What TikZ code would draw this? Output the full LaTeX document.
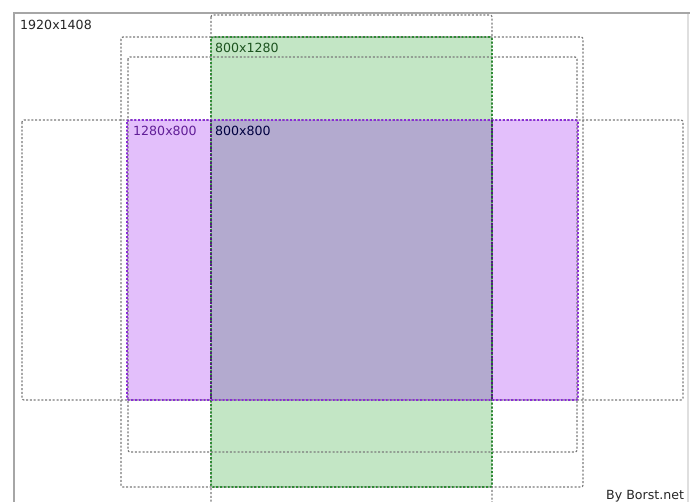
\documentclass[tikz,border=0pt]{standalone}
\usepackage{fontspec}
\setmainfont{DejaVu Sans}
\usetikzlibrary{positioning}

\definecolor{shotgreen}{HTML}{C3E6C5}
\definecolor{edgegreen}{HTML}{2E8B34}
\definecolor{shotpurple}{HTML}{E3BFFB}
\definecolor{edgepurple}{HTML}{8A2BD8}
\definecolor{shotmix}{HTML}{B3AACF}
\definecolor{guidegray}{HTML}{7A7A7A}

\tikzset{
  guide/.style={draw=guidegray, line width=1.2pt, dash pattern=on 2pt off 1.8pt, rounded corners=2pt},
  sizelabel/.style={anchor=base west, inner sep=0pt, font=\fontsize{12.6}{14}\selectfont},
}

\begin{document}
\begin{tikzpicture}[x=1pt, y=-1pt]
  \useasboundingbox (0,0) rectangle (695,501);
  \fill[white] (0,0) rectangle (695,501);

  % filled shots
  \fill[shotgreen] (211,37) rectangle (492,487);
  \fill[shotpurple] (127,120) rectangle (578,400);
  \fill[shotmix] (211,120) rectangle (492,400);

  % dashed guide frames
  \draw[guide] (211,15) rectangle (492,512);
  \draw[guide] (121,37) rectangle (583,487);
  \draw[guide] (128,57) rectangle (577,452);
  \draw[guide] (22,120) rectangle (683,400);

  % shot outlines
  \draw[guide, draw=edgegreen, line width=1.7pt] (211,37) rectangle (492,487);
  \draw[guide, draw=edgepurple, line width=1.7pt] (127,120) rectangle (578,400);
  \draw[guide, draw=edgepurple!60!black] (211,120) -- (211,400) (492,120) -- (492,400);

  % outer screen
  \draw[gray!70, line width=1.4pt] (14,520) -- (14,13) -- (690,13);
  \draw[gray!25, line width=1.4pt] (688,14) -- (688,520);

  % labels
  \node[sizelabel, text=black!85] (full) at (20,29) {1920x1408};
  \node[sizelabel, text=edgegreen!60!black] (tall) at (215,52) {800x1280};
  \node[sizelabel, text=edgepurple!70!black] (wide) at (133,135) {1280x800};
  \node[sizelabel, text=black!75!blue] (square) at (215,135) {800x800};
  \node[sizelabel, text=black!85] (credit) at (606,499) {By Borst.net};
\end{tikzpicture}
\end{document}
